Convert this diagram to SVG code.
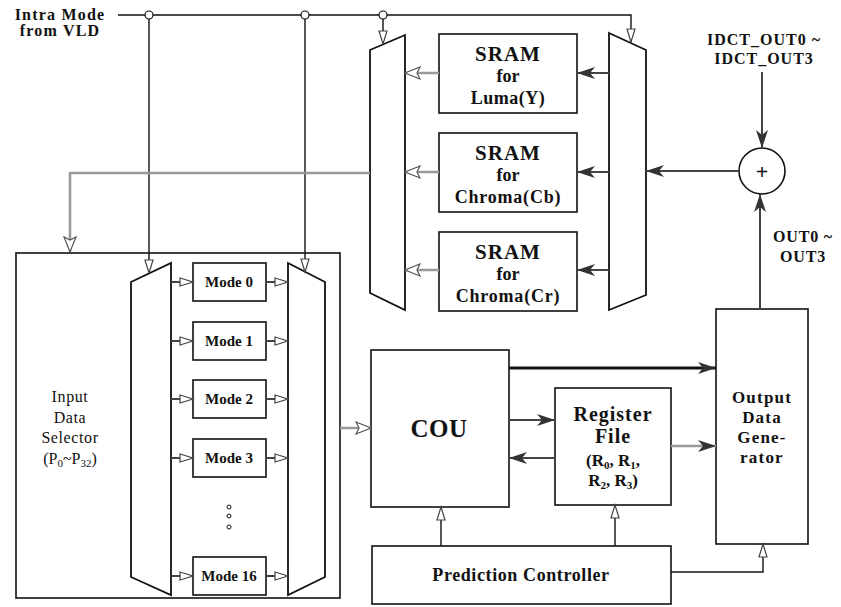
<svg xmlns="http://www.w3.org/2000/svg" width="841" height="607" viewBox="0 0 841 607">
<style>
.box{fill:#fff;stroke:#111;stroke-width:1.6}
.mux{fill:#fff;stroke:#111;stroke-width:1.8}
.t{font-family:"Liberation Serif","Times New Roman","DejaVu Serif",serif;font-weight:bold;fill:#111;text-anchor:middle}
.n{font-weight:normal}
.w{stroke:#111;stroke-width:1.4;fill:none}
.g{stroke:#444;stroke-width:2;fill:none}
.lg{stroke:#999;stroke-width:2.5;fill:none}
.k{stroke:#111;stroke-width:3.2;fill:none}
.jn{fill:#fff;stroke:#111;stroke-width:1.2}
</style>
<defs>
<marker id="ho" markerUnits="userSpaceOnUse" markerWidth="18" markerHeight="14" refX="16" refY="7" orient="auto">
<path d="M1,1 L16,7 L1,13 L4,7 Z" fill="#fff" stroke="#555" stroke-width="1.2"/>
</marker>
<marker id="hs" markerUnits="userSpaceOnUse" markerWidth="16" markerHeight="12" refX="14" refY="6" orient="auto">
<path d="M1,2 L14,6 L1,10 Z" fill="#fff" stroke="#444" stroke-width="1.2"/>
</marker>
<marker id="so" markerUnits="userSpaceOnUse" markerWidth="19" markerHeight="14" refX="18" refY="7" orient="auto">
<path d="M0,1 L18,7 L0,13 L5,7 Z" fill="#333"/>
</marker>
</defs>

<g id="intra-label">
<text class="t" x="60" y="20" font-size="16" letter-spacing="1.2">Intra Mode</text>
<text class="t" x="60" y="36" font-size="16" letter-spacing="1.2">from VLD</text>
</g>

<g id="mux-left"><polygon class="mux" points="370,50 405,35 405,310 370,293"/></g>
<g id="mux-right"><polygon class="mux" points="609,33 646,50 646,295 609,310"/></g>

<g id="sram-y">
<rect class="box" x="439" y="34" width="138" height="79"/>
<text class="t" x="508" y="61" font-size="21" letter-spacing="1">SRAM</text>
<text class="t" x="508" y="82" font-size="18">for</text>
<text class="t" x="508" y="104" font-size="18" letter-spacing="0.5">Luma(Y)</text>
</g>
<g id="sram-cb">
<rect class="box" x="439" y="133" width="138" height="79"/>
<text class="t" x="508" y="160" font-size="21" letter-spacing="1">SRAM</text>
<text class="t" x="508" y="181" font-size="18">for</text>
<text class="t" x="508" y="203" font-size="18" letter-spacing="0.8">Chroma(Cb)</text>
</g>
<g id="sram-cr">
<rect class="box" x="439" y="232" width="138" height="79"/>
<text class="t" x="508" y="259" font-size="21" letter-spacing="1">SRAM</text>
<text class="t" x="508" y="280" font-size="18">for</text>
<text class="t" x="508" y="302" font-size="18" letter-spacing="0.8">Chroma(Cr)</text>
</g>

<g id="adder">
<circle cx="762" cy="171" r="23" fill="#fff" stroke="#111" stroke-width="1.6"/>
<text class="t" x="762" y="179" font-size="22">+</text>
</g>
<g id="idct-label">
<text class="t" x="764" y="45" font-size="16" letter-spacing="1">IDCT_OUT0 ~</text>
<text class="t" x="764" y="64" font-size="16" letter-spacing="1">IDCT_OUT3</text>
</g>
<g id="out-label">
<text class="t" x="803" y="242" font-size="16" letter-spacing="0.8">OUT0 ~</text>
<text class="t" x="803" y="262" font-size="16" letter-spacing="0.8">OUT3</text>
</g>

<g id="input-selector">
<rect class="box" x="16" y="253" width="324" height="345"/>
<text class="t n" x="70" y="402" font-size="16" letter-spacing="0.6">Input</text>
<text class="t n" x="70" y="423" font-size="16" letter-spacing="0.6">Data</text>
<text class="t n" x="70" y="443" font-size="16" letter-spacing="0.6">Selector</text>
<text class="t n" x="70" y="464" font-size="16">(P<tspan font-size="11" dy="3">0</tspan><tspan dy="-3">~P</tspan><tspan font-size="11" dy="3">32</tspan><tspan dy="-3">)</tspan></text>
</g>
<g id="sel-mux-left"><polygon class="mux" points="131,282 171,263 171,595 131,577"/></g>
<g id="sel-mux-right"><polygon class="mux" points="288,263 325,282 325,577 288,595"/></g>
<g id="mode0"><rect class="box" x="193" y="263" width="73" height="38"/><text class="t" x="229" y="287" font-size="15">Mode 0</text></g>
<g id="mode1"><rect class="box" x="193" y="322" width="73" height="38"/><text class="t" x="229" y="346" font-size="15">Mode 1</text></g>
<g id="mode2"><rect class="box" x="193" y="380" width="73" height="38"/><text class="t" x="229" y="404" font-size="15">Mode 2</text></g>
<g id="mode3"><rect class="box" x="193" y="439" width="73" height="38"/><text class="t" x="229" y="463" font-size="15">Mode 3</text></g>
<g id="dots">
<circle cx="229" cy="507" r="2" fill="#fff" stroke="#111"/>
<circle cx="229" cy="516" r="2" fill="#fff" stroke="#111"/>
<circle cx="229" cy="527" r="2" fill="#fff" stroke="#111"/>
</g>
<g id="mode16"><rect class="box" x="193" y="557" width="73" height="38"/><text class="t" x="229" y="581" font-size="15">Mode 16</text></g>

<g id="cou">
<rect class="box" x="371" y="350" width="138" height="157"/>
<text class="t" x="439" y="437" font-size="25" letter-spacing="0.5">COU</text>
</g>
<g id="register-file">
<rect class="box" x="555" y="388" width="116" height="117"/>
<text class="t" x="613" y="421" font-size="20" letter-spacing="1">Register</text>
<text class="t" x="613" y="443" font-size="20" letter-spacing="1">File</text>
<text class="t" x="613" y="466" font-size="17">(R<tspan font-size="11" dy="3">0</tspan><tspan dy="-3">, R</tspan><tspan font-size="11" dy="3">1</tspan><tspan dy="-3">,</tspan></text>
<text class="t" x="613" y="486" font-size="17">R<tspan font-size="11" dy="3">2</tspan><tspan dy="-3">, R</tspan><tspan font-size="11" dy="3">3</tspan><tspan dy="-3">)</tspan></text>
</g>
<g id="output-gen">
<rect class="box" x="716" y="309" width="92" height="235"/>
<text class="t" x="762" y="403" font-size="17" letter-spacing="1.2">Output</text>
<text class="t" x="762" y="423" font-size="17" letter-spacing="1.2">Data</text>
<text class="t" x="762" y="443" font-size="17" letter-spacing="1.2">Gene-</text>
<text class="t" x="762" y="463" font-size="17" letter-spacing="1.2">rator</text>
</g>
<g id="prediction-controller">
<rect class="box" x="372" y="546" width="299" height="58"/>
<text class="t" x="521" y="581" font-size="18" letter-spacing="0.6">Prediction Controller</text>
</g>

<g id="connectors">
<polyline class="w" points="118,15 631,15 631,42" marker-end="url(#hs)"/>
<line class="w" x1="383" y1="15" x2="383" y2="44" marker-end="url(#hs)"/>
<line class="w" x1="149" y1="15" x2="149" y2="273" marker-end="url(#hs)"/>
<line class="w" x1="305" y1="15" x2="305" y2="272" marker-end="url(#hs)"/>
<circle class="jn" cx="149" cy="15" r="4"/>
<circle class="jn" cx="305" cy="15" r="4"/>
<circle class="jn" cx="383" cy="15" r="4"/>
<line class="g" x1="609" y1="73" x2="577" y2="73" marker-end="url(#so)"/>
<line class="g" x1="609" y1="172" x2="577" y2="172" marker-end="url(#so)"/>
<line class="g" x1="609" y1="270" x2="577" y2="270" marker-end="url(#so)"/>
<line class="lg" x1="439" y1="73" x2="405" y2="73" marker-end="url(#ho)"/>
<line class="lg" x1="439" y1="172" x2="405" y2="172" marker-end="url(#ho)"/>
<line class="lg" x1="439" y1="270" x2="405" y2="270" marker-end="url(#ho)"/>
<polyline class="lg" points="370,173 70,173 70,252" marker-end="url(#ho)"/>
<line class="g" x1="762" y1="72" x2="762" y2="148" marker-end="url(#so)"/>
<line class="g" x1="739" y1="171" x2="646" y2="171" marker-end="url(#so)"/>
<line class="g" x1="760" y1="309" x2="760" y2="194" marker-end="url(#so)"/>
<line class="g" x1="171" y1="282" x2="193" y2="282" marker-end="url(#hs)"/>
<line class="g" x1="171" y1="341" x2="193" y2="341" marker-end="url(#hs)"/>
<line class="g" x1="171" y1="399" x2="193" y2="399" marker-end="url(#hs)"/>
<line class="g" x1="171" y1="458" x2="193" y2="458" marker-end="url(#hs)"/>
<line class="g" x1="171" y1="576" x2="193" y2="576" marker-end="url(#hs)"/>
<line class="g" x1="266" y1="282" x2="288" y2="282" marker-end="url(#hs)"/>
<line class="g" x1="266" y1="341" x2="288" y2="341" marker-end="url(#hs)"/>
<line class="g" x1="266" y1="399" x2="288" y2="399" marker-end="url(#hs)"/>
<line class="g" x1="266" y1="458" x2="288" y2="458" marker-end="url(#hs)"/>
<line class="g" x1="266" y1="576" x2="288" y2="576" marker-end="url(#hs)"/>
<line class="lg" x1="340" y1="428" x2="371" y2="428" marker-end="url(#ho)"/>
<line class="k" x1="509" y1="368" x2="716" y2="368" marker-end="url(#so)"/>
<line class="g" x1="509" y1="420" x2="555" y2="420" stroke-width="3" marker-end="url(#so)"/>
<line class="g" x1="555" y1="458" x2="509" y2="458" stroke-width="3" marker-end="url(#so)"/>
<line class="lg" x1="671" y1="446" x2="716" y2="446" marker-end="url(#so)"/>
<line class="w" x1="441" y1="546" x2="441" y2="507" marker-end="url(#hs)"/>
<line class="w" x1="615" y1="546" x2="615" y2="505" marker-end="url(#hs)"/>
<polyline class="w" points="671,572 763,572 763,544" marker-end="url(#hs)"/>
</g>
</svg>
